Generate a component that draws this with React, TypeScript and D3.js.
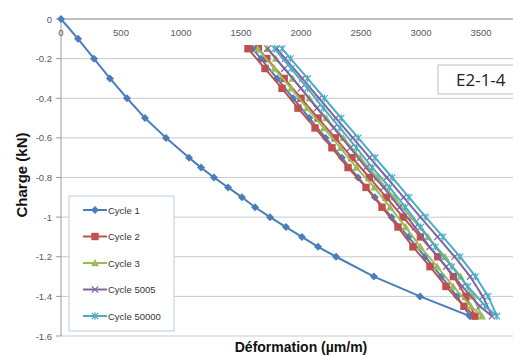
import React from "react";
import * as d3 from "d3";

const xTicks = [0, 500, 1000, 1500, 2000, 2500, 3000, 3500];
const yTicks = [0, -0.2, -0.4, -0.6, -0.8, -1, -1.2, -1.4, -1.6];

const seriesNames = ["Cycle 1", "Cycle 2", "Cycle 3", "Cycle 5005", "Cycle 50000"];
const seriesColors = ["#4A7EBB", "#C0504D", "#9BBB59", "#8064A2", "#4BACC6"];
const seriesMarkers = ["diamond", "square", "triangle", "x", "star"];

// Cycle 1 virgin loading
const c1LoadY = [0, -0.1, -0.2, -0.3, -0.4, -0.5, -0.6, -0.7, -0.75, -0.8, -0.85, -0.9, -0.95, -1.0, -1.05, -1.1, -1.15, -1.2, -1.3, -1.4, -1.5];
const c1LoadX = [0, 142, 275, 408, 550, 700, 875, 1067, 1167, 1275, 1392, 1508, 1617, 1742, 1875, 2008, 2142, 2292, 2608, 2992, 3408];

// common levels for cycles
const loadLevels = [-0.15, -0.25, -0.35, -0.45, -0.55, -0.65, -0.75, -0.85, -0.95, -1.05, -1.15, -1.25, -1.35, -1.45, -1.5];
const unloadLevels = [-1.4, -1.3, -1.2, -1.1, -1.0, -0.9, -0.8, -0.7, -0.6, -0.5, -0.4, -0.3, -0.2, -0.15];

const c1UnloadX = [3300, 3170, 3035, 2895, 2755, 2615, 2475, 2340, 2205, 2070, 1935, 1800, 1665, 1598];

const c2LoadX = [1558, 1700, 1842, 1975, 2117, 2258, 2392, 2542, 2675, 2808, 2933, 3075, 3208, 3358, 3450];
const c2UnloadX = [3375, 3270, 3140, 2995, 2850, 2710, 2570, 2425, 2285, 2142, 2000, 1860, 1715, 1645];

const c3LoadX = [1640, 1778, 1918, 2050, 2190, 2330, 2462, 2610, 2742, 2872, 2995, 3135, 3268, 3415, 3508];
const c3UnloadX = [3432, 3330, 3200, 3058, 2915, 2775, 2635, 2492, 2352, 2210, 2070, 1930, 1790, 1720];

const c5005LoadX = [1722, 1862, 2000, 2132, 2272, 2410, 2542, 2688, 2820, 2950, 3072, 3210, 3343, 3490, 3592];
const c5005UnloadX = [3515, 3410, 3280, 3138, 2995, 2855, 2715, 2572, 2432, 2290, 2150, 2010, 1868, 1798];

const c50000LoadX = [1780, 1918, 2055, 2186, 2325, 2462, 2594, 2738, 2870, 2998, 3120, 3257, 3390, 3536, 3633];
const c50000UnloadX = [3560, 3455, 3325, 3183, 3040, 2900, 2760, 2617, 2477, 2335, 2195, 2055, 1913, 1843];

type P = [number, number];
const zip = (xs: number[], ys: number[]): P[] => xs.map((x, i) => [x, ys[i]]);

const seriesData: P[][] = [
  [...zip(c1LoadX, c1LoadY), ...zip(c1UnloadX, unloadLevels)],
  [...zip(c2LoadX, loadLevels), ...zip(c2UnloadX, unloadLevels)],
  [...zip(c3LoadX, loadLevels), ...zip(c3UnloadX, unloadLevels)],
  [...zip(c5005LoadX, loadLevels), ...zip(c5005UnloadX, unloadLevels)],
  [...zip(c50000LoadX, loadLevels), ...zip(c50000UnloadX, unloadLevels)],
];

function Marker({ type, x, y, color }: { type: string; x: number; y: number; color: string }) {
  if (type === "diamond") {
    const s = 4;
    return <path d={`M${x},${y - s}L${x + s},${y}L${x},${y + s}L${x - s},${y}Z`} fill={color} />;
  }
  if (type === "square") {
    const s = 3.7;
    return <rect x={x - s} y={y - s} width={2 * s} height={2 * s} fill={color} />;
  }
  if (type === "triangle") {
    const s = 4;
    return <path d={`M${x},${y - s}L${x + s},${y + s * 0.8}L${x - s},${y + s * 0.8}Z`} fill={color} />;
  }
  if (type === "x") {
    const s = 3.2;
    return <path d={`M${x - s},${y - s}L${x + s},${y + s}M${x - s},${y + s}L${x + s},${y - s}`} stroke={color} strokeWidth={1.2} />;
  }
  const s = 3.2;
  return (
    <path
      d={`M${x - s},${y - s}L${x + s},${y + s}M${x - s},${y + s}L${x + s},${y - s}M${x},${y - s - 0.5}L${x},${y + s + 0.5}`}
      stroke={color}
      strokeWidth={1.2}
    />
  );
}

export default function App() {
  const W = 513, H = 355;
  const x = d3.scaleLinear().domain([0, 4000]).range([61, 541]);
  const y = d3.scaleLinear().domain([-1.6, 0]).range([336, 19]);
  const line = d3.line<P>().x((d) => x(d[0])).y((d) => y(d[1]));
  const font = "'Liberation Sans', Arial, sans-serif";
  const fmtY = (v: number) => (v === 0 ? "0" : String(+v.toFixed(1)));

  return (
    <svg width={W} height={H} style={{ position: "absolute", left: 0, top: 0, background: "#fff" }}>
      {/* gridlines */}
      {yTicks.map((t) => (
        <line key={"g" + t} x1={61} x2={W} y1={y(t)} y2={y(t)} stroke="#C9C9C9" strokeWidth={1} />
      ))}
      {/* y axis */}
      <line x1={61} x2={61} y1={19} y2={336} stroke="#9A9A9A" strokeWidth={1} />
      {yTicks.map((t) => (
        <line key={"yt" + t} x1={56} x2={61} y1={y(t)} y2={y(t)} stroke="#9A9A9A" />
      ))}
      {yTicks.map((t) => (
        <text key={"yl" + t} x={52} y={y(t) + 3.5} textAnchor="end" fontSize={9.5} fill="#595959" fontFamily={font}>
          {fmtY(t)}
        </text>
      ))}
      {/* x axis */}
      <line x1={61} x2={W} y1={19} y2={19} stroke="#9A9A9A" strokeWidth={1} />
      {xTicks.map((t) => (
        <text key={"xl" + t} x={x(t)} y={36} textAnchor="middle" fontSize={9.5} fill="#595959" fontFamily={font}>
          {t}
        </text>
      ))}
      {/* series */}
      <g>
        {seriesData.map((data, i) => (
          <g key={seriesNames[i]}>
            <path d={line(data) || ""} fill="none" stroke={seriesColors[i]} strokeWidth={2} />
            {data.map((d, j) => (
              <Marker key={j} type={seriesMarkers[i]} x={x(d[0])} y={y(d[1])} color={seriesColors[i]} />
            ))}
          </g>
        ))}
      </g>
      {/* label box */}
      <rect x={438} y={65} width={90} height={29} fill="#fff" stroke="#BFBFBF" strokeWidth={1} />
      <text x={456} y={86} fontSize={17} fill="#222" fontFamily="'Open Sans', 'Liberation Sans', sans-serif">
        E2-1-4
      </text>
      {/* legend */}
      <rect x={69} y={196} width={105} height={135} fill="#fff" stroke="#B9CDE5" strokeWidth={1} />
      {seriesNames.map((n, i) => {
        const ly = 210 + i * 26.5;
        return (
          <g key={"lg" + n}>
            <line x1={83} x2={107} y1={ly} y2={ly} stroke={seriesColors[i]} strokeWidth={2} />
            <Marker type={seriesMarkers[i]} x={95} y={ly} color={seriesColors[i]} />
            <text x={108} y={ly + 3.5} fontSize={9.5} fill="#333" fontFamily={font}>
              {n}
            </text>
          </g>
        );
      })}
      {/* axis titles */}
      <text
        transform={`translate(27,175) rotate(-90)`}
        textAnchor="middle"
        fontSize={15}
        fontWeight="bold"
        fill="#111"
        fontFamily={font}
      >
        Charge (kN)
      </text>
      <text x={301} y={352} textAnchor="middle" fontSize={14} fontWeight="bold" fill="#111" fontFamily={font}>
        Déformation (µm/m)
      </text>
    </svg>
  );
}
